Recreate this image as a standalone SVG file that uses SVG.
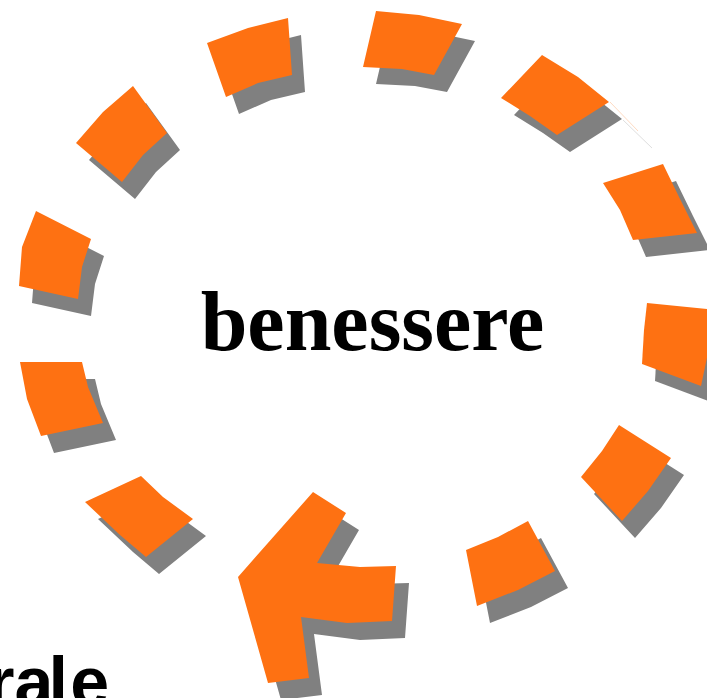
<svg xmlns="http://www.w3.org/2000/svg" xmlns:xlink="http://www.w3.org/1999/xlink" width="707" height="698" viewBox="0 0 707 698">
  <style>
    .orange { fill: #FE7112; }
    .shadow { fill: #808080; }
    .label { font-family: "Liberation Serif", "Times New Roman", serif; font-weight: bold; font-size: 84px; fill: #000; }
    .cut { font-family: "Liberation Sans", Arial, sans-serif; font-weight: bold; font-size: 70px; fill: #000; }
  </style>
  <defs>
    <g id="dashes">
      <polygon points="313,492 346,513 317,563 360,567 396,566 392,621 347,623 301,617 309,678 268,683 238,577"/>
      <polygon points="85,502 141,476 163,497 193,519 146,557 120,535"/>
      <polygon points="20,362 82,362 88,387 103,423 41,436 27,399"/>
      <polygon points="36,211 91,239 82,267 78,299 19,286 22,247"/>
      <polygon points="133,86 167,133 143,155 122,182 76,143 103,112"/>
      <polygon points="207,43 248,28 288,18 292,75 258,83 226,97"/>
      <polygon points="376,11 419,15 462,24 434,75 402,69 363,67"/>
      <polygon points="542,55 578,77 609,102 557,135 530,116 501,98"/>
      <polygon points="603,183 663,164 680,199 697,233 633,240 620,210"/>
      <polygon points="647,303 717,310 701,386 642,364 644,330"/>
      <polygon points="619,425 671,458 648,491 622,521 581,477 602,451"/>
      <polygon points="528,521 555,571 518,590 477,606 466,550 498,537"/>
    </g>
  </defs>
  <g id="connectors">
    <g id="cycle-arrow-shadow">
      <use xlink:href="#dashes" class="shadow" transform="translate(13,17)"/>
      <line x1="623" y1="120" x2="652" y2="148" stroke="#808080" stroke-width="1" opacity="0.25"/>
    </g>
    <g id="cycle-arrow">
      <use xlink:href="#dashes" class="orange"/>
      <line x1="610" y1="102" x2="638" y2="131" stroke="#FE7112" stroke-width="1" opacity="0.25"/>
    </g>
  </g>
  <g id="node-benessere">
    <text class="label" x="372.5" y="350" text-anchor="middle">benessere</text>
  </g>
  <g id="node-rale">
    <text class="cut" x="-12.8 14.4 48.4 70.2" y="706">rale</text>
  </g>
</svg>
